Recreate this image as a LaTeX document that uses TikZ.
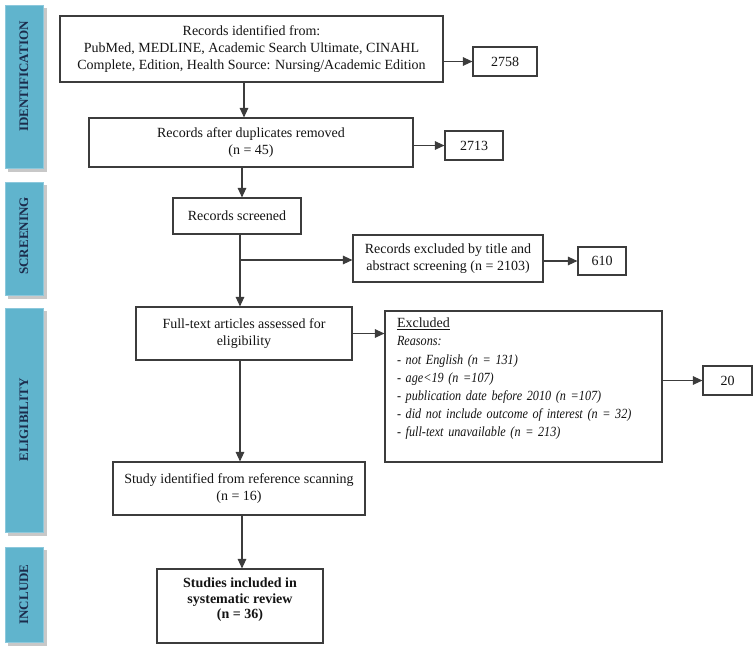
\documentclass[tikz,border=0pt]{standalone}
\usepackage{fontspec}
\setmainfont{Liberation Serif}
\newfontfamily\condserif[FakeStretch=0.87]{Liberation Serif}
\usetikzlibrary{arrows.meta,positioning,calc}
\definecolor{barblue}{RGB}{96,180,205}
\definecolor{baredge}{RGB}{140,200,220}
\definecolor{barshadow}{RGB}{200,200,200}
\definecolor{bartxt}{RGB}{28,44,76}
\definecolor{linec}{RGB}{60,60,60}
\definecolor{txtc}{RGB}{20,20,20}
\tikzset{
  box/.style={draw=linec, line width=1.1pt, fill=white, inner sep=0pt, align=center,
     text=txtc, font=\fontsize{14}{17.3}\selectfont},
  bar/.style={fill=barblue, draw=baredge, line width=0.8pt, inner sep=0pt, minimum width=38,
     text=bartxt, font=\fontsize{13}{15}\selectfont\bfseries},
  arr/.style={draw=linec, line width=1.1pt, -{Triangle[length=9.5pt,width=8.5pt]}},
  ln/.style={draw=linec, line width=1.1pt}
}
\newcommand{\exit}[1]{{\condserif\fontsize{14}{18.2}\selectfont\itshape #1}}
\begin{document}
\begin{tikzpicture}[x=1pt,y=-1pt]
\useasboundingbox (0,0) rectangle (753,649);
% side bars (shadows first)
\fill[barshadow] (8,8) rectangle (47,172);
\fill[barshadow] (8,185) rectangle (47,299);
\fill[barshadow] (8,311) rectangle (47,536);
\fill[barshadow] (8,550) rectangle (47,646);
\node[bar, minimum height=163] (bar1) at (24,86.5) {\rotatebox{90}{\hspace{20pt}IDENTIFICATION}};
\node[bar, minimum height=113] (bar2) at (24,238.5) {\rotatebox{90}{\hspace{5pt}SCREENING}};
\node[bar, minimum height=224] (bar3) at (24,420) {\rotatebox{90}{ELIGIBILITY}};
\node[bar, minimum height=95] (bar4) at (24,594.5) {\rotatebox{90}{INCLUDE}};
% main boxes
\node[box, minimum width=383, minimum height=66] (b1) at (251.5,49)
  {Records identified from:\\PubMed, MEDLINE, Academic Search Ultimate, CINAHL\\Complete, Edition, Health Source: Nursing/Academic Edition};
\node[box, minimum width=64, minimum height=29] (n1) at (505,61.5) {2758};
\node[box, minimum width=324, minimum height=49] (b2) at (251,142.5)
  {Records after duplicates removed\\(n = 45)};
\node[box, minimum width=58, minimum height=29] (n2) at (474,145.5) {2713};
\node[box, minimum width=128, minimum height=36] (b3) at (237,216) {Records screened};
\node[box, minimum width=190, minimum height=47] (e1) at (448,258.5)
  {Records excluded by title and\\abstract screening (n = 2103)};
\node[box, minimum width=48, minimum height=28] (n3) at (602,261) {610};
\node[box, minimum width=216, minimum height=53] (b4) at (244,333.5)
  {Full-text articles assessed for\\eligibility};
\node[box, minimum width=277, minimum height=151, align=left, text width=253,
      font=\fontsize{14}{18.2}\selectfont] (e2) at (523.5,386.5)
  {\underline{Excluded}\\\exit{Reasons:}\\\exit{- not English (n = 131)}\\\exit{- age<19 (n =107)}\\
   \exit{- publication date before 2010 (n =107)}\\\exit{- did not include outcome of interest (n = 32)}\\
   \exit{- full-text unavailable (n = 213)}\\\mbox{}};
\node[box, minimum width=49, minimum height=29] (n4) at (727.5,380.5) {20};
\node[box, minimum width=252, minimum height=53] (b5) at (239,488.5)
  {Study identified from reference scanning\\(n = 16)};
\node[box, minimum width=166, minimum height=74, font=\fontsize{14}{15.5}\selectfont\bfseries] (b6) at (240,606)
  {Studies included in\\systematic review\\(n = 36)\\\mbox{}};
% connectors
\coordinate (v1) at (244,0);
\coordinate (v2) at (242,0);
\coordinate (v3) at (240,0);
\coordinate (jn) at (240,260);
\draw[arr] (b1.south -| v1) -- (b2.north -| v1);
\draw[arr] (b2.south -| v2) -- (b3.north -| v2);
\draw[arr] (b3.south -| v3) -- (b4.north -| v3);
\draw[arr] (jn) -- (jn -| e1.west);
\draw[arr] (b4.south -| v3) -- (b5.north -| v3);
\draw[arr] (b5.south -| v2) -- (b6.north -| v2);
\draw[arr] (b1.east |- n1) -- (n1.west);
\draw[arr] (b2.east |- n2) -- (n2.west);
\draw[arr] (e1.east |- n3) -- (n3.west);
\draw[arr] (b4.east) -- (b4.east -| e2.west);
\draw[arr] (e2.east |- n4) -- (n4.west);
\end{tikzpicture}
\end{document}
